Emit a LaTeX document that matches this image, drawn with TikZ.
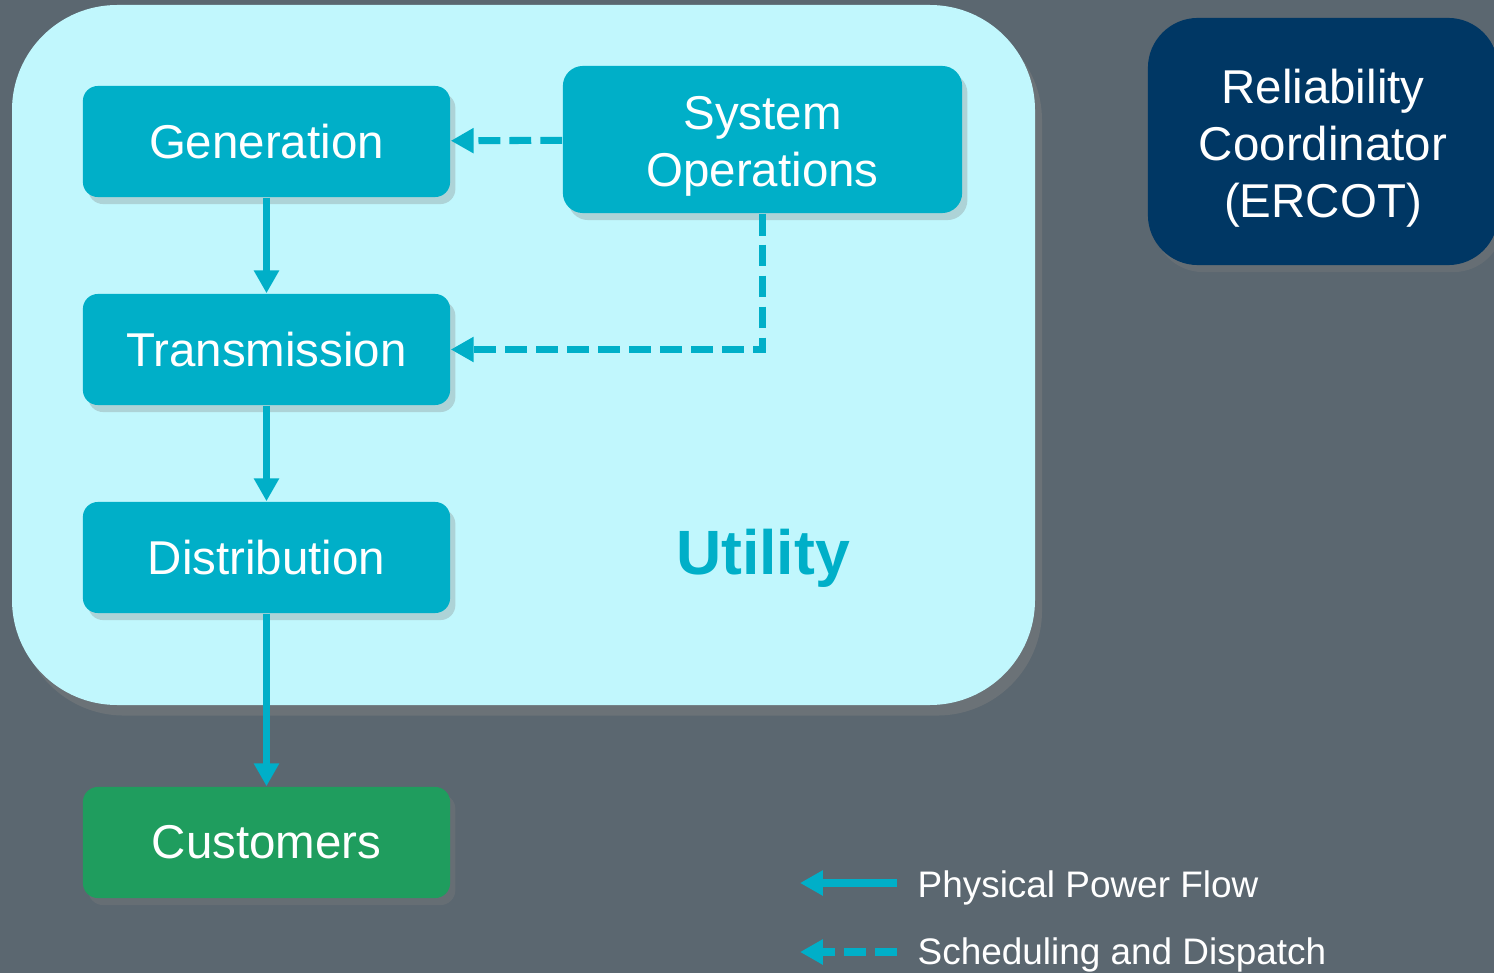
\documentclass[tikz,border=0pt]{standalone}
\usepackage{fontspec}
\setmainfont{Liberation Sans}
\usepackage{tikz}
\usetikzlibrary{arrows.meta,positioning,shadows}
\definecolor{slide}{RGB}{91,103,112}
\definecolor{utilbg}{RGB}{193,247,253}
\definecolor{teal}{RGB}{0,175,200}
\definecolor{navy}{RGB}{0,55,100}
\definecolor{custgreen}{RGB}{31,157,94}
\tikzstyle{unit} = [rectangle,rounded corners=0.15cm,fill=teal,text=white,align=center,
  minimum width=3.67cm,minimum height=1.11cm,inner sep=0pt,
  font=\fontsize{13.5}{16.2}\selectfont,
  drop shadow={shadow xshift=1.5pt,shadow yshift=-2pt,opacity=0.3}]
\tikzstyle{flow} = [draw=teal,line width=2pt,-{Triangle[width=6.8pt,length=6.5pt]}]
\tikzstyle{sched} = [flow,dash pattern=on 6.2pt off 2.6pt]
\newcommand{\topstrut}{\rule{0pt}{13.5pt}}

\begin{document}
\begin{tikzpicture}[x=0.01cm,y=-0.01cm]
    \useasboundingbox (0,0) rectangle (1494,973);
    \clip (0,0) rectangle (1494,973);
    \fill [slide] (0,0) rectangle (1494,973);

    % utility area
    \path [fill=utilbg,rounded corners=1.05cm,
      drop shadow={shadow xshift=2pt,shadow yshift=-3pt,opacity=0.45}] (12,5) rectangle (1035,705);
    \node [text=teal,font=\bfseries\fontsize{17.8}{20}\selectfont] (util) at (763,558) {Utility};

    \node [unit] (gen) at (266.5,141.5) {Generation};
    \node [unit,minimum width=3.99cm,minimum height=1.47cm,rounded corners=0.2cm] (sysop) at (762.5,139.5) {\topstrut System\\Operations};
    \node [unit] (trans) at (266.5,349.5) {Transmission};
    \node [unit] (dist) at (266.5,557.5) {Distribution};
    \node [unit,fill=custgreen] (cust) at (266.5,842.5) {Customers};
    \node [unit,fill=navy,minimum width=3.5cm,minimum height=2.47cm,rounded corners=0.5cm] (rc) at (1323,141.5) {\topstrut Reliability\\Coordinator\\(ERCOT)};

    \draw [flow] (gen) -- (trans);
    \draw [flow] (trans) -- (dist);
    \draw [flow] (dist) -- (cust);
    \draw [sched] (sysop) -- (gen);
    \draw [sched] (sysop.south) |- (trans.east);

    % legend
    \path
    coordinate (p1) at (897,883)
    coordinate (p2) at (800,883)
    coordinate (s1) at (897,952)
    coordinate (s2) at (800,952);
    \draw [flow] (p1) -- (p2);
    \draw [sched] (s1) -- (s2);
    \node [anchor=west,text=white,font=\fontsize{10.5}{12}\selectfont,inner sep=0pt] (lp) at (917,888) {Physical Power Flow};
    \node [anchor=west,text=white,font=\fontsize{10.5}{12}\selectfont,inner sep=0pt] (ls) at (917,955) {Scheduling and Dispatch};
  \end{tikzpicture}
\end{document}
